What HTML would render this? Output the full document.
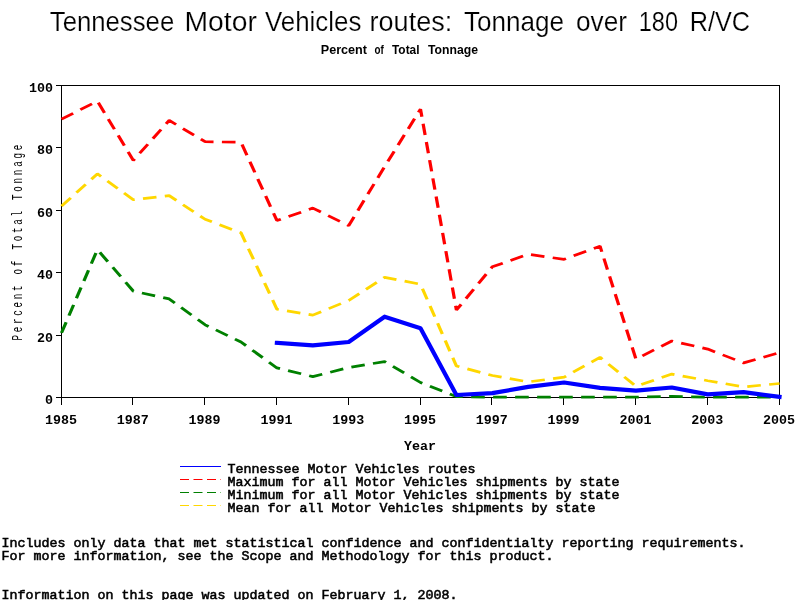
<!DOCTYPE html>
<html lang="en">
<head>
<meta charset="utf-8">
<title>Tennessee Motor Vehicles routes: Tonnage over 180 R/VC</title>
<style>
html,body{margin:0;padding:0;background:#fff;}
body{width:800px;height:600px;overflow:hidden;}
svg{display:block;}
.mono{font-family:"Liberation Mono",monospace;font-size:13.333px;fill:#000;}
.tick{font-family:"Liberation Mono",monospace;font-size:13.333px;font-weight:bold;fill:#000;}
.sans{font-family:"Liberation Sans",sans-serif;fill:#000;}
</style>
</head>
<body>
<svg width="800" height="600" viewBox="0 0 800 600" style="will-change:transform;transform:translateZ(0)">
<rect width="800" height="600" fill="#ffffff"/>
<text class="sans" y="30.5" font-size="27.3" style="stroke:#fff;stroke-width:0.2px;paint-order:fill stroke"><tspan x="49.80" textLength="124.40" lengthAdjust="spacingAndGlyphs">Tennessee</tspan> <tspan x="184.50" textLength="72.30" lengthAdjust="spacingAndGlyphs">Motor</tspan> <tspan x="265.00" textLength="96.40" lengthAdjust="spacingAndGlyphs">Vehicles</tspan> <tspan x="369.60" textLength="82.60" lengthAdjust="spacingAndGlyphs">routes:</tspan> <tspan x="464.00" textLength="100.00" lengthAdjust="spacingAndGlyphs">Tonnage</tspan> <tspan x="576.00" textLength="51.00" lengthAdjust="spacingAndGlyphs">over</tspan> <tspan x="638.80" textLength="39.20" lengthAdjust="spacingAndGlyphs">180</tspan> <tspan x="689.70" textLength="60.30" lengthAdjust="spacingAndGlyphs">R/VC</tspan></text>
<text class="sans" y="53.7" font-size="12.3" font-weight="bold"><tspan x="320.75" textLength="46.25" lengthAdjust="spacingAndGlyphs">Percent</tspan> <tspan x="374.50" textLength="9.25" lengthAdjust="spacingAndGlyphs">of</tspan> <tspan x="392.00" textLength="27.50" lengthAdjust="spacingAndGlyphs">Total</tspan> <tspan x="428.00" textLength="50.00" lengthAdjust="spacingAndGlyphs">Tonnage</tspan></text>
<g stroke="#000" stroke-width="1" fill="none" shape-rendering="crispEdges">
<rect x="61.5" y="85.5" width="718.0" height="312.0"/>
<line x1="56" x2="61" y1="397.5" y2="397.5"/>
<line x1="56" x2="61" y1="335.1" y2="335.1"/>
<line x1="56" x2="61" y1="272.7" y2="272.7"/>
<line x1="56" x2="61" y1="210.3" y2="210.3"/>
<line x1="56" x2="61" y1="147.9" y2="147.9"/>
<line x1="56" x2="61" y1="85.5" y2="85.5"/>
<line x1="61.5" x2="61.5" y1="398" y2="405"/>
<line x1="132.5" x2="132.5" y1="398" y2="405"/>
<line x1="204.5" x2="204.5" y1="398" y2="405"/>
<line x1="276.5" x2="276.5" y1="398" y2="405"/>
<line x1="348.5" x2="348.5" y1="398" y2="405"/>
<line x1="420.5" x2="420.5" y1="398" y2="405"/>
<line x1="491.5" x2="491.5" y1="398" y2="405"/>
<line x1="563.5" x2="563.5" y1="398" y2="405"/>
<line x1="635.5" x2="635.5" y1="398" y2="405"/>
<line x1="707.5" x2="707.5" y1="398" y2="405"/>
<line x1="779.5" x2="779.5" y1="398" y2="405"/>
</g>
<g fill="none" stroke-linejoin="bevel" stroke-linecap="butt">
<g transform="translate(61.5,0) scale(1.1957,1)" stroke-width="2.7" stroke-dasharray="11.4 7">
<polyline points="0.00,119.2 30.03,101.1 60.05,160.4 90.08,120.4 120.10,141.7 150.13,142.3 180.15,220.6 210.18,208.1 240.20,225.6 270.23,166.6 300.25,109.2 330.28,310.1 360.31,266.8 390.33,254.3 420.36,259.3 450.38,246.2 480.41,359.1 510.43,341.0 540.46,349.1 570.48,362.9 600.51,352.6" stroke="#ff0000"/>
<polyline points="0.00,332.9 30.03,249.6 60.05,291.1 90.08,298.9 120.10,324.8 150.13,342.0 180.15,367.9 210.18,376.6 240.20,367.5 270.23,361.6 300.25,382.5 330.28,396.6 360.31,397.2 390.33,397.2 420.36,397.2 450.38,397.2 480.41,397.2 510.43,396.3 540.46,397.2 570.48,397.2 600.51,397.2" stroke="#008000"/>
<polyline points="0.00,206.2 30.03,173.8 60.05,199.7 90.08,195.6 120.10,219.3 150.13,232.8 180.15,309.2 210.18,315.1 240.20,300.5 270.23,277.4 300.25,284.2 330.28,366.0 360.31,375.5 390.33,381.9 420.36,377.2 450.38,357.3 480.41,386.3 510.43,374.1 540.46,380.7 570.48,386.9 600.51,383.5" stroke="#ffd700"/>
</g>
<polyline points="276.9,342.9 312.8,345.4 348.7,342.0 384.6,316.7 420.5,328.2 456.4,395.0 492.3,393.1 528.2,386.9 564.1,382.5 600.0,387.8 635.9,390.6 671.8,387.5 707.7,394.4 743.6,392.2 779.5,396.9" stroke="#0000ff" stroke-width="4.2" stroke-linejoin="round" stroke-linecap="square"/>
</g>
<text class="tick" x="53" y="404.0" text-anchor="end">0</text>
<text class="tick" x="53" y="341.6" text-anchor="end">20</text>
<text class="tick" x="53" y="279.2" text-anchor="end">40</text>
<text class="tick" x="53" y="216.8" text-anchor="end">60</text>
<text class="tick" x="53" y="154.4" text-anchor="end">80</text>
<text class="tick" x="53" y="92.0" text-anchor="end">100</text>
<text class="tick" x="61.0" y="424" text-anchor="middle">1985</text>
<text class="tick" x="132.8" y="424" text-anchor="middle">1987</text>
<text class="tick" x="204.6" y="424" text-anchor="middle">1989</text>
<text class="tick" x="276.4" y="424" text-anchor="middle">1991</text>
<text class="tick" x="348.2" y="424" text-anchor="middle">1993</text>
<text class="tick" x="420.0" y="424" text-anchor="middle">1995</text>
<text class="tick" x="491.8" y="424" text-anchor="middle">1997</text>
<text class="tick" x="563.6" y="424" text-anchor="middle">1999</text>
<text class="tick" x="635.4" y="424" text-anchor="middle">2001</text>
<text class="tick" x="707.2" y="424" text-anchor="middle">2003</text>
<text class="tick" x="779.0" y="424" text-anchor="middle">2005</text>
<text class="tick" x="420" y="449.6" text-anchor="middle">Year</text>
<text class="mono" transform="translate(22,340.6) rotate(-90) scale(0.62,1)" style="font-size:15px;letter-spacing:4.35px">Percent of Total Tonnage</text>
<line x1="180" x2="221" y1="466.5" y2="466.5" stroke="#0000ff" stroke-width="1"/>
<text class="mono leg" x="227.5" y="472.8" style="stroke:#000;stroke-width:0.55px">Tennessee Motor Vehicles routes</text>
<line x1="180" x2="221" y1="479.5" y2="479.5" stroke="#ff0000" stroke-width="1" stroke-dasharray="9 4.5"/>
<text class="mono leg" x="227.5" y="485.9" style="stroke:#000;stroke-width:0.55px">Maximum for all Motor Vehicles shipments by state</text>
<line x1="180" x2="221" y1="492.5" y2="492.5" stroke="#008000" stroke-width="1" stroke-dasharray="9 4.5"/>
<text class="mono leg" x="227.5" y="499.0" style="stroke:#000;stroke-width:0.55px">Minimum for all Motor Vehicles shipments by state</text>
<line x1="180" x2="221" y1="505.5" y2="505.5" stroke="#ffd700" stroke-width="1" stroke-dasharray="9 4.5"/>
<text class="mono leg" x="227.5" y="512.1" style="stroke:#000;stroke-width:0.55px">Mean for all Motor Vehicles shipments by state</text>
<text class="mono" x="1.6" y="546.7" style="stroke:#000;stroke-width:0.55px">Includes only data that met statistical confidence and confidentialty reporting requirements.</text>
<text class="mono" x="1.6" y="560.0" style="stroke:#000;stroke-width:0.55px">For more information, see the Scope and Methodology for this product.</text>
<text class="mono" x="1.6" y="598.7" style="stroke:#000;stroke-width:0.55px">Information on this page was updated on February 1, 2008.</text>
</svg>
</body>
</html>
